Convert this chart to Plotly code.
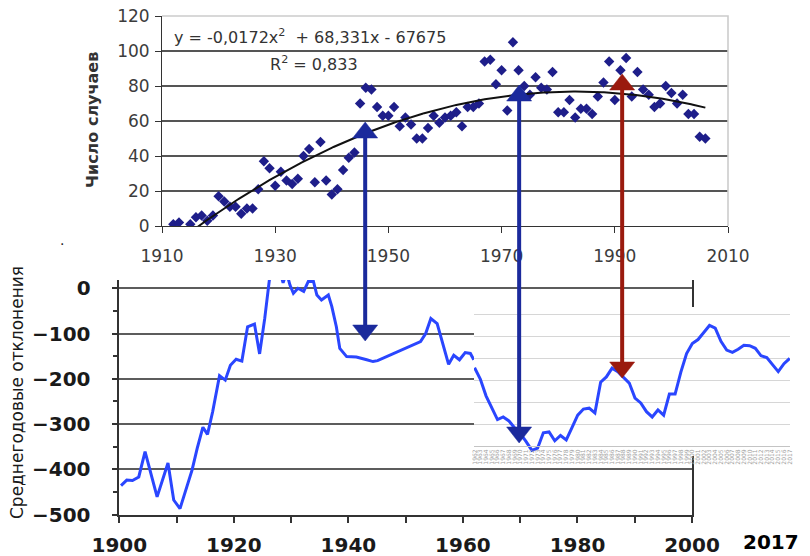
import numpy as np
import plotly.graph_objects as go

W, H = 810, 556

# ---- upper panel: number of cases per year -------------------------------
case_years = [1912, 1913] + list(range(1915, 2007))
case_counts = [1, 2, 1, 5, 6, 3, 6, 17, 14, 11, 11, 7, 10, 10, 21, 37, 33, 23, 31, 26,
               24, 27, 40, 44, 25, 48, 26, 18, 21, 32, 39, 42, 70, 79, 78, 68, 63, 63, 68, 57,
               62, 58, 50, 50, 56, 63, 59, 62, 63, 65, 57, 68, 68, 70, 94, 95, 81, 89, 66, 105,
               89, 80, 75, 85, 79, 78, 88, 65, 65, 72, 62, 67, 67, 64, 74, 82, 94, 72, 89, 96,
               74, 88, 78, 75, 68, 70, 80, 76, 70, 75, 64, 64, 51, 50]

# ---- lower panel: mean annual deviations ---------------------------------
main_years = [1900.3, 1901.3, 1902.3, 1903.4, 1904.5, 1906.6, 1908.5, 1909.5, 1910.6, 1912.7,
              1913.6, 1914.6, 1915.4, 1916.3, 1917.5, 1918.5, 1919.4, 1920.4, 1921.4, 1922.4,
              1923.6, 1924.5, 1925.4, 1926.2, 1927.2, 1928.0, 1928.6, 1929.2, 1929.8, 1930.4,
              1931.2, 1932.2, 1933.0, 1933.9, 1934.5, 1935.3, 1936.5, 1937.1, 1937.9, 1938.5,
              1939.7, 1941.4, 1943.2, 1944.3, 1945.1, 1947.7, 1950.6, 1952.6, 1953.5, 1954.4,
              1955.5, 1956.7, 1957.5, 1958.4, 1959.4, 1960.4, 1961.3, 1961.9]
main_vals = [-436, -424, -425, -417, -361, -461, -386, -468, -487, -402,
             -354, -307, -323, -273, -193, -203, -170, -157, -161, -85,
             -79, -145, -66, 18, 55, 40, 12, 35, 7, -11,
             0, -7, 15, 15, -15, -26, -15, -40, -85, -133,
             -151, -152, -158, -162, -160, -146, -129, -118, -100, -67,
             -78, -129, -168, -148, -158, -142, -144, -158]

inset_years = list(range(1962, 2018))
inset_vals = [-172, -198, -236, -265, -290, -284, -293, -309, -322, -340,
              -360, -355, -320, -318, -338, -326, -336, -308, -280, -266,
              -264, -275, -205, -193, -173, -181, -193, -207, -241, -252,
              -272, -284, -268, -280, -232, -232, -182, -140, -117, -108,
              -92, -76, -82, -112, -132, -137, -130, -121, -122, -128,
              -145, -149, -165, -181, -163, -151]

top_y_ticks = [0, 20, 40, 60, 80, 100, 120]
top_x_ticks = [1910, 1930, 1950, 1970, 1990, 2010]
low_x_ticks = [1900, 1920, 1940, 1960, 1980, 2000]
low_y_ticks = [-500, -400, -300, -200, -100, 0]
inset_grid = [-350, -300, -250, -200, -150, -100, -50]

# arrows: year on the upper axis, then tip heights (px from top)
arrow_years = [1945.9, 1973.1, 1991.3]
arrow_tips = [(122, 341), (85, 443), (74, 378)]
arrow_colors = ["#1b2a9c", "#1b2a9c", "#9a1a0e"]

NAVY = "#1e1e8a"
BLUE = "#2a46ff"
FONT = "DejaVu Sans"


def px_x(p):
    return p / W


def px_y(p):
    return 1 - p / H


fig = go.Figure()

fig.add_trace(go.Scatter(
    x=case_years, y=case_counts, mode="markers", xaxis="x", yaxis="y",
    marker=dict(symbol="diamond", size=8, color=NAVY, line=dict(width=0)),
    hoverinfo="skip"))

trend = np.polynomial.Polynomial.fit(case_years, case_counts, 2)
tx = np.linspace(min(case_years), max(case_years), 300)
fig.add_trace(go.Scatter(
    x=tx, y=trend(tx), mode="lines", xaxis="x", yaxis="y",
    line=dict(color="#111111", width=2), hoverinfo="skip"))

fig.add_trace(go.Scatter(
    x=main_years, y=main_vals, mode="lines", xaxis="x2", yaxis="y2",
    line=dict(color=BLUE, width=3), hoverinfo="skip"))

fig.add_trace(go.Scatter(
    x=inset_years, y=inset_vals, mode="lines", xaxis="x3", yaxis="y3",
    line=dict(color=BLUE, width=3), hoverinfo="skip"))

top_font = dict(family=FONT, size=17, color="#3c3c3c")
low_font = dict(family=FONT, size=20, color="#1a1a1a", weight="bold")

fig.update_layout(
    width=W, height=H, margin=dict(l=0, r=0, t=0, b=0, autoexpand=False), autosize=False,
    showlegend=False, paper_bgcolor="white", plot_bgcolor="white",
    xaxis=dict(domain=[px_x(162), px_x(728)], range=[1910, 2010], anchor="y",
               automargin=False,
               tickvals=top_x_ticks, ticks="outside", ticklen=6, tickcolor="#333",
               showline=True, linecolor="#333", linewidth=1, showgrid=False,
               zeroline=False, tickfont=top_font, ticklabelstandoff=9),
    yaxis=dict(domain=[px_y(226), px_y(16)], range=[0, 120], anchor="x",
               automargin=False,
               tickvals=top_y_ticks, ticks="outside", ticklen=6, tickcolor="#333",
               showline=True, linecolor="#333", linewidth=1, showgrid=True,
               gridcolor="#555555", gridwidth=1.5, zeroline=False,
               tickfont=top_font, ticklabelstandoff=2),
    xaxis2=dict(domain=[px_x(119.3), px_x(692)], range=[1900, 2000], anchor="y2",
                automargin=False,
                tickvals=low_x_ticks, ticks="outside", ticklen=7,
                tickwidth=1.5, tickcolor="#333", showline=True, linecolor="#333",
                linewidth=1.5, showgrid=False, zeroline=False, tickfont=low_font,
                ticklabelstandoff=5,
                minor=dict(dtick=10, tick0=1900, ticks="outside", ticklen=7,
                           tickwidth=1.5, tickcolor="#333", showgrid=False)),
    yaxis2=dict(domain=[px_y(514.5), px_y(280)], range=[-500, 18.3], anchor="x2",
                automargin=False,
                tickvals=low_y_ticks, ticks="outside", ticklen=6, tickwidth=1.5,
                tickcolor="#333", showline=True, mirror=True, linecolor="#333",
                linewidth=1.5, showgrid=True, gridcolor="#5c5c5c", gridwidth=1.5,
                zeroline=False, tickfont=low_font, ticklabelstandoff=17,
                minor=dict(dtick=50, tick0=0, ticks="outside", ticklen=5,
                           tickcolor="#333", showgrid=False)),
    xaxis3=dict(domain=[px_x(474), px_x(790)], range=[1961.9, 2017.05],
                anchor="free", position=px_y(446), automargin=False,
                tickvals=inset_years, ticktext=[str(y) for y in inset_years],
                tickangle=-90, tickfont=dict(family=FONT, size=6, color="#a0a0a0"),
                ticks="", showline=True, linecolor="#c4c4c4", linewidth=1,
                showgrid=False, zeroline=False),
    yaxis3=dict(domain=[px_y(456), px_y(307)], range=[-372.7, -34.1], anchor="x3",
                automargin=False,
                tickvals=inset_grid, showticklabels=False, ticks="",
                showgrid=True, gridcolor="#d6d6d6", gridwidth=1, zeroline=False,
                showline=False),
)

shapes = [
    # light frame on the top and right of the upper plot area
    dict(type="path", xref="paper", yref="paper", layer="above",
         path=f"M {px_x(162)},{px_y(16)} L {px_x(728)},{px_y(16)} L {px_x(728)},{px_y(226)}",
         line=dict(color="#cccccc", width=1.6)),
]

half_w = 12.5 / 5.66  # arrowhead half-width in years of the upper axis
head_h = 16
for yr, (t_top, t_bot), col in zip(arrow_years, arrow_tips, arrow_colors):
    shapes.append(dict(type="line", xref="x", yref="paper", layer="above",
                       x0=yr, x1=yr, y0=px_y(t_top + head_h - 1), y1=px_y(t_bot - head_h + 1),
                       line=dict(color=col, width=4)))
    shapes.append(dict(type="path", xref="x", yref="paper", layer="above",
                       path=(f"M {yr - half_w},{px_y(t_top + head_h)} L {yr + half_w},{px_y(t_top + head_h)} "
                             f"L {yr},{px_y(t_top)} Z"),
                       fillcolor=col, line=dict(color=col, width=0.5)))
    shapes.append(dict(type="path", xref="x", yref="paper", layer="above",
                       path=(f"M {yr - half_w},{px_y(t_bot - head_h)} L {yr + half_w},{px_y(t_bot - head_h)} "
                             f"L {yr},{px_y(t_bot)} Z"),
                       fillcolor=col, line=dict(color=col, width=0.5)))

fig.update_layout(shapes=shapes)

annotations = [
    dict(text="y = -0,0172x<sup>2</sup>  + 68,331x - 67675", x=px_x(172), y=px_y(36),
         xanchor="left", yanchor="middle", font=dict(family=FONT, size=16, color="#333")),
    dict(text="R<sup>2</sup> = 0,833", x=px_x(268), y=px_y(64),
         xanchor="left", yanchor="middle", font=dict(family=FONT, size=16, color="#333")),
    dict(text="Число случаев", x=px_x(92), y=px_y(120), textangle=-90,
         xanchor="center", yanchor="middle",
         font=dict(family=FONT, size=16, color="#333", weight="bold")),
    dict(text="Среднегодовые отклонения", x=px_x(17), y=px_y(393), textangle=-90,
         xanchor="center", yanchor="middle",
         font=dict(family=FONT, size=17, color="#1a1a1a")),
    dict(text="2017", x=px_x(771), y=px_y(542), xanchor="center", yanchor="middle",
         font=dict(family=FONT, size=20, color="#000", weight="bold")),
    dict(text=".", x=px_x(62), y=px_y(240), xanchor="center", yanchor="middle",
         font=dict(family=FONT, size=14, color="#222")),
]
for a in annotations:
    a.update(xref="paper", yref="paper", showarrow=False)
fig.update_layout(annotations=annotations)

fig.write_html("out.html")
